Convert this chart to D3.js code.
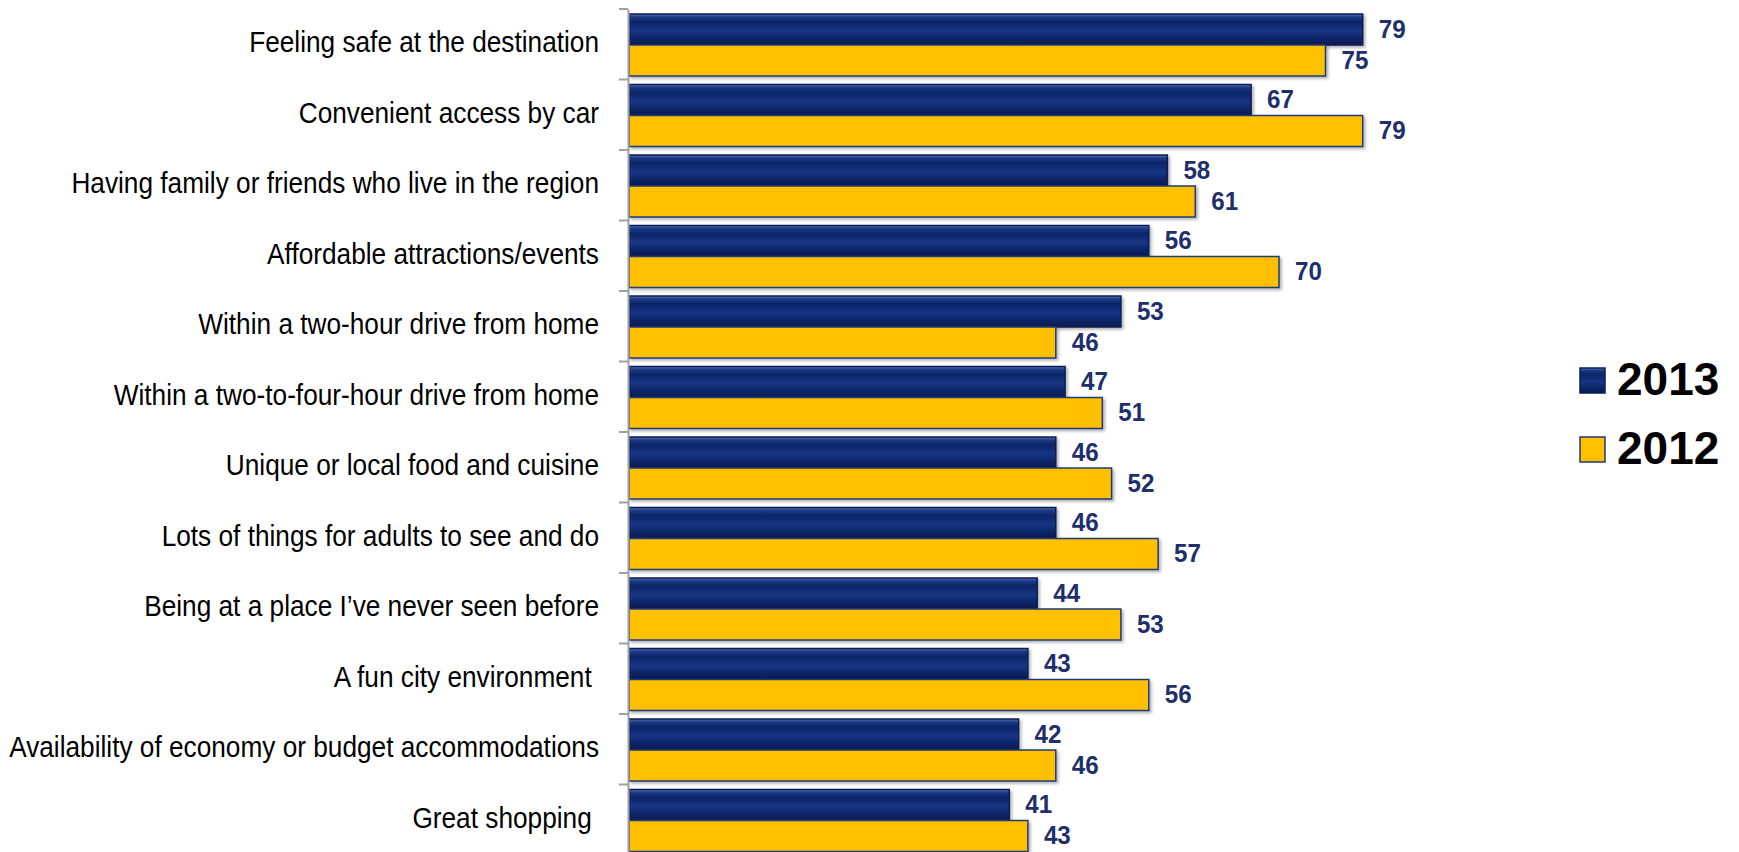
<!DOCTYPE html>
<html lang="en">
<head>
    <meta charset="UTF-8">
    <title>Destination attributes 2013 vs 2012</title>
    <script src="https://cdnjs.cloudflare.com/ajax/libs/d3/7.8.5/d3.min.js"></script>
    <style>
        html, body {
            margin: 0;
            padding: 0;
            background: #ffffff;
        }
        svg text {
            font-family: "Liberation Sans", Arial, sans-serif;
            white-space: pre;
        }
    </style>
</head>
<body>
<svg id="chart"></svg>
<script>

const categories = [
    "Feeling safe at the destination",
    "Convenient access by car",
    "Having family or friends who live in the region",
    "Affordable attractions/events",
    "Within a two-hour drive from home",
    "Within a two-to-four-hour drive from home",
    "Unique or local food and cuisine",
    "Lots of things for adults to see and do",
    "Being at a place I\u2019ve never seen before",
    "A fun city environment ",
    "Availability of economy or budget accommodations",
    "Great shopping "
];
const series = ["2013", "2012"];
const values2013 = [79, 67, 58, 56, 53, 47, 46, 46, 44, 43, 42, 41];
const values2012 = [75, 79, 61, 70, 46, 51, 52, 57, 53, 56, 46, 43];

const W = 1739, H = 852;
const plotLeft = 628, plotTop = 9, band = 70.5;

const svg = d3.select("#chart")
    .attr("width", W)
    .attr("height", H);

// gradients + shadow
const defs = svg.append("defs");
const navy = defs.append("linearGradient")
    .attr("id", "navyGrad")
    .attr("x1", 0).attr("y1", 0).attr("x2", 0).attr("y2", 1);
[["0%", "#5a73b3"], ["10%", "#1b3a85"], ["25%", "#0c2668"], ["55%", "#163484"],
 ["85%", "#0a2260"], ["100%", "#071a4d"]].forEach(s => {
    navy.append("stop").attr("offset", s[0]).attr("stop-color", s[1]);
});
const shadow = defs.append("filter")
    .attr("id", "shadow")
    .attr("x", "-5%").attr("y", "-20%").attr("width", "110%").attr("height", "160%");
shadow.append("feDropShadow")
    .attr("dx", 2).attr("dy", 2)
    .attr("stdDeviation", 1.5)
    .attr("flood-color", "#000")
    .attr("flood-opacity", 0.3);

const fills = {"2013": "url(#navyGrad)", "2012": "#ffc000"};

// scales
const x = d3.scaleLinear()
    .domain([0, 100])
    .range([plotLeft, plotLeft + 930]);
const y0 = d3.scaleBand()
    .domain(categories)
    .range([plotTop, plotTop + band * categories.length]);
const y1 = d3.scaleBand()
    .domain(series)
    .range([5, 67]);

const rows = categories.map((c, i) => ({
    name: c,
    vals: [
        {key: "2013", v: values2013[i]},
        {key: "2012", v: values2012[i]}
    ]
}));

// category labels
const labels = svg.append("g").attr("class", "labels");
labels.selectAll("text")
    .data(categories)
    .enter()
    .append("text")
    .attr("x", 0)
    .attr("y", 0)
    .attr("text-anchor", "end")
    .style("font-size", "29px")
    .attr("fill", "#000")
    .text(d => d);

// text in the reference is squeezed horizontally
let refLen = labels.select("text").node().getComputedTextLength();
let sx = 350 / refLen;
labels.selectAll("text")
    .attr("transform", d => `translate(599, ${y0(d) + 43}) scale(${sx}, 1)`);

// bars
const groups = svg.append("g")
    .selectAll("g")
    .data(rows)
    .enter()
    .append("g")
    .attr("transform", d => `translate(0, ${y0(d.name)})`);

groups.selectAll("rect")
    .data(d => d.vals)
    .enter()
    .append("rect")
    .attr("x", x(0) + 1)
    .attr("y", d => y1(d.key))
    .attr("width", d => x(d.v) - x(0) - 1)
    .attr("height", y1.bandwidth())
    .attr("fill", d => fills[d.key])
    .attr("stroke", d => d.key == "2012" ? "#1f3a78" : "#0a1d55")
    .attr("stroke-width", 1.5)
    .attr("filter", "url(#shadow)");

groups.selectAll("text")
    .data(d => d.vals)
    .enter()
    .append("text")
    .attr("transform", d => `translate(${x(d.v) + 16}, ${y1(d.key) + y1.bandwidth() / 2 + 8}) scale(0.93, 1)`)
    .style("font-size", "26px")
    .style("font-weight", "bold")
    .attr("fill", "#1f2f6b")
    .text(d => d.v);

// axis
const yAxis = d3.axisLeft(y0)
    .tickSize(9)
    .tickSizeOuter(0)
    .tickFormat("");
const axisG = svg.append("g")
    .attr("transform", `translate(${plotLeft}, 0)`)
    .call(yAxis);
axisG.select(".domain").attr("stroke", "#a0a0a0").attr("stroke-width", 2);
// ticks sit on the band edges, not centres
axisG.selectAll(".tick").attr("transform", d => `translate(0, ${y0(d)})`);
axisG.selectAll(".tick line").attr("stroke", "#a0a0a0").attr("stroke-width", 2);

// legend
const legend = svg.append("g")
    .attr("transform", "translate(1580, 368)");
const legendItems = legend.selectAll("g")
    .data(series)
    .enter()
    .append("g")
    .attr("transform", (d, i) => `translate(0, ${i * 69})`);
legendItems.append("rect")
    .attr("width", 25)
    .attr("height", 25)
    .attr("fill", d => fills[d])
    .attr("stroke", d => d == "2012" ? "#1f3a78" : "#0a1d55")
    .attr("stroke-width", 1.5);
legendItems.append("text")
    .attr("x", 37)
    .attr("y", 27)
    .style("font-size", "46px")
    .style("font-weight", "bold")
    .attr("fill", "#000")
    .text(d => d);

</script>
</body>
</html>
